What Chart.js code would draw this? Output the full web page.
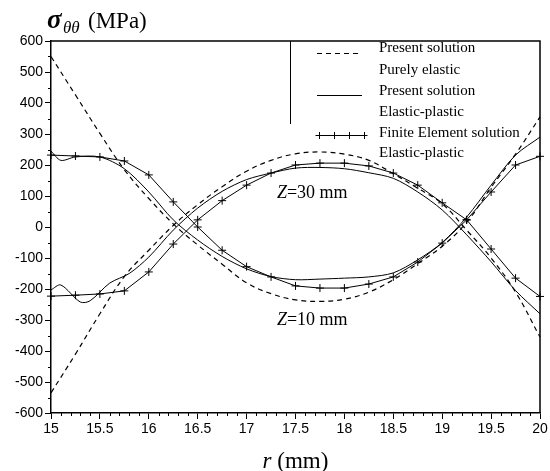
<!DOCTYPE html>
<html>
<head>
<meta charset="utf-8">
<script src="https://cdn.jsdelivr.net/npm/chart.js@4"></script>
<style>
  html, body { margin: 0; padding: 0; background: #fff; }
  #wrap { width: 550px; height: 471px; }
</style>
</head>
<body>
<div id="wrap"><canvas id="chart" width="550" height="471"></canvas></div>
<script>
// Valores
const rGrid = [15, 15.25, 15.5, 15.75, 16, 16.25, 16.5, 16.75, 17, 17.25, 17.5,
               17.75, 18, 18.25, 18.5, 18.75, 19, 19.25, 19.5, 19.75, 20];

// Present solution, purely elastic
const elasticA = [550, 426, 302, 185, 92, 10, -58, -120, -180, -215, -235,
                  -240, -233, -210, -170, -118, -62, 15, 128, 235, 355];
const elasticB = [-535, -410, -280, -160, -75, 5, 72, 130, 180, 215, 236,
                  242, 235, 215, 172, 125, 75, -10, -100, -210, -355];

// Present solution, elastic-plastic
const plasticAr = [15, 15.1, 15.25, 15.5, 15.75, 16, 16.25, 16.5, 16.75, 17, 17.25, 17.5,
                   17.75, 18, 18.25, 18.5, 18.75, 19, 19.25, 19.5, 19.75, 20];
const plasticA  = [245, 215, 226, 226, 188, 113, 23, -42, -95, -135, -160, -170,
                   -168, -165, -161, -148, -106, -50, 32, 135, 232, 290];
const plasticBr = [15, 15.1, 15.3, 15.4, 15.6, 15.8, 16, 16.25, 16.5, 16.75, 17, 17.25, 17.5,
                   17.75, 18, 18.25, 18.5, 18.75, 19, 19.25, 19.5, 19.75, 20];
const plasticB  = [-203, -187, -242, -238, -181, -150, -97, -10, 61, 115, 153, 174, 190,
                   192, 188, 175, 157, 113, 55, -25, -112, -205, -280];

// Finite Element solution, elastic-plastic
const feA = [232, 229, 226, 213, 168, 81, 0, -75, -128, -161, -190,
             -197, -197, -184, -161, -113, -52, 23, 113, 200, 228];
const feB = [-223, -220, -216, -206, -145, -55, 23, 85, 135, 174, 200,
             206, 206, 197, 174, 135, 78, 23, -71, -165, -224];

const yTicks = { min: -600, max: 600, step: 100 };
const xTicks = { min: 15, max: 20, step: 0.5 };

function pts(xs, ys) {
    return xs.map((x, i) => ({ x: x, y: ys[i] }));
}

const serif = '"Liberation Serif", "Times New Roman", serif';
const sans = '"Liberation Sans", Arial, sans-serif';

// Legenda, títulos e traços menores
const decor = {
    id: 'decor',
    afterDraw(chart) {
        const { ctx, chartArea: a, scales: { x, y } } = chart;
        ctx.save();
        ctx.strokeStyle = '#000';
        ctx.fillStyle = '#000';

        // moldura superior e direita
        ctx.lineWidth = 1.5;
        ctx.beginPath();
        ctx.moveTo(a.left, a.top);
        ctx.lineTo(a.right, a.top);
        ctx.lineTo(a.right, a.bottom);
        ctx.stroke();

        // traços menores
        ctx.lineWidth = 1;
        ctx.beginPath();
        for (let v = yTicks.min + 50; v < yTicks.max; v += 100) {
            const py = Math.round(y.getPixelForValue(v)) + 0.5;
            ctx.moveTo(a.left - 3, py);
            ctx.lineTo(a.left, py);
        }
        for (let i = 0; i <= 50; i++) {
            if (i % 5 === 0) continue;
            const px = Math.round(x.getPixelForValue(15 + i * 0.1)) + 0.5;
            ctx.moveTo(px, a.bottom);
            ctx.lineTo(px, a.bottom + 3);
        }
        ctx.stroke();

        // título do eixo y
        ctx.textBaseline = 'alphabetic';
        ctx.textAlign = 'left';
        ctx.font = 'italic bold 27px ' + serif;
        ctx.fillText('σ', 47, 28);
        ctx.font = 'italic 17px ' + serif;
        ctx.fillText('θθ', 63, 33);
        ctx.font = '23px ' + serif;
        ctx.fillText('(MPa)', 88, 28);

        // título do eixo x
        const cx = (a.left + a.right) / 2;
        ctx.font = 'italic 23px ' + serif;
        const wr = ctx.measureText('r').width;
        ctx.font = '23px ' + serif;
        const wrest = ctx.measureText(' (mm)').width;
        let sx = cx - (wr + wrest) / 2;
        ctx.font = 'italic 23px ' + serif;
        ctx.fillText('r', sx, 468);
        ctx.font = '23px ' + serif;
        ctx.fillText(' (mm)', sx + wr, 468);

        // rótulos Z
        const zlabel = (txt, r, v) => {
            const px = x.getPixelForValue(r);
            const py = y.getPixelForValue(v);
            ctx.textBaseline = 'middle';
            ctx.font = 'italic 18px ' + serif;
            ctx.fillText('Z', px, py);
            const wz = ctx.measureText('Z').width;
            ctx.font = '18px ' + serif;
            ctx.fillText(txt, px + wz, py);
        };
        zlabel('=30 mm', 17.31, 108);
        zlabel('=10 mm', 17.31, -302);

        // legenda
        const lx = a.left + 239;
        ctx.lineWidth = 1;
        ctx.beginPath();
        ctx.moveTo(lx + 0.5, a.top);
        ctx.lineTo(lx + 0.5, a.top + 83);
        ctx.stroke();

        const s0 = lx + 27, s1 = lx + 72, tx = lx + 89;
        ctx.font = '15px ' + serif;
        ctx.textBaseline = 'middle';

        ctx.setLineDash([5, 4]);
        ctx.beginPath();
        ctx.moveTo(s0, 53.5); ctx.lineTo(s1, 53.5);
        ctx.stroke();
        ctx.setLineDash([]);
        ctx.fillText('Present solution', tx, 48);
        ctx.fillText('Purely elastic', tx, 70);

        ctx.beginPath();
        ctx.moveTo(s0, 95.5); ctx.lineTo(s1, 95.5);
        ctx.stroke();
        ctx.fillText('Present solution', tx, 91);
        ctx.fillText('Elastic-plastic', tx, 112);

        ctx.beginPath();
        ctx.moveTo(s0, 135.5); ctx.lineTo(s1 + 3, 135.5);
        for (let k = 0; k < 4; k++) {
            const mx = s0 + 2 + k * 15;
            ctx.moveTo(mx - 3.5, 135.5); ctx.lineTo(mx + 3.5, 135.5);
            ctx.moveTo(mx + 0.5, 132); ctx.lineTo(mx + 0.5, 139);
        }
        ctx.stroke();
        ctx.fillText('Finite Element solution', tx, 133);
        ctx.fillText('Elastic-plastic', tx, 153);

        ctx.restore();
    }
};

const dashedStyle = { borderColor: '#000', borderWidth: 1.2, borderDash: [5, 4], pointRadius: 0, tension: 0.4, fill: false, clip: false };
const solidStyle = { borderColor: '#000', borderWidth: 1, pointRadius: 0, tension: 0.3, fill: false, clip: false };
const feStyle = { borderColor: '#000', borderWidth: 1, pointStyle: 'cross', pointRadius: 4, pointBorderWidth: 1,
                  pointBorderColor: '#000', tension: 0, fill: false, clip: false };

new Chart(document.getElementById('chart'), {
    type: 'line',
    data: {
        datasets: [
            Object.assign({ label: 'Present solution, purely elastic A', data: pts(rGrid, elasticA) }, dashedStyle),
            Object.assign({ label: 'Present solution, purely elastic B', data: pts(rGrid, elasticB) }, dashedStyle),
            Object.assign({ label: 'Present solution, elastic-plastic A', data: pts(plasticAr, plasticA) }, solidStyle),
            Object.assign({ label: 'Present solution, elastic-plastic B', data: pts(plasticBr, plasticB) }, solidStyle),
            Object.assign({ label: 'Finite Element solution A', data: pts(rGrid, feA) }, feStyle),
            Object.assign({ label: 'Finite Element solution B', data: pts(rGrid, feB) }, feStyle)
        ]
    },
    options: {
        responsive: false,
        animation: false,
        layout: { padding: { top: 41, right: 10, left: 0, bottom: 0 } },
        plugins: {
            legend: { display: false },
            tooltip: { enabled: false }
        },
        scales: {
            x: {
                type: 'linear',
                min: xTicks.min,
                max: xTicks.max,
                afterFit: (s) => { s.height = 58; },
                border: { display: true, color: '#000', width: 1.5 },
                grid: { display: true, drawOnChartArea: false, drawTicks: true, tickLength: 6, color: '#000', lineWidth: 1 },
                ticks: { stepSize: xTicks.step, color: '#000', padding: 2, maxRotation: 0,
                         callback: (v) => String(Math.round(v * 10) / 10),
                         font: { family: sans, size: 14 } }
            },
            y: {
                type: 'linear',
                min: yTicks.min,
                max: yTicks.max,
                afterFit: (s) => { s.width = 51; },
                border: { display: true, color: '#000', width: 1.5 },
                grid: { display: true, drawOnChartArea: false, drawTicks: true, tickLength: 6, color: '#000', lineWidth: 1 },
                ticks: { stepSize: yTicks.step, color: '#000', padding: 2,
                         font: { family: sans, size: 14 } }
            }
        }
    },
    plugins: [decor]
});
</script>
</body>
</html>
